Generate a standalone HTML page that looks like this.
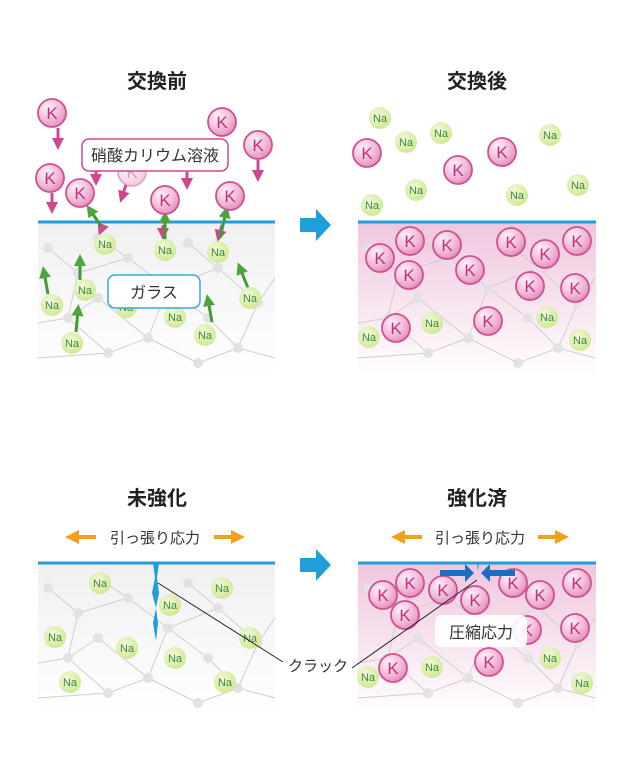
<!DOCTYPE html>
<html><head><meta charset="utf-8"><style>
body{margin:0;background:#fff;}
svg{display:block;font-family:"Liberation Sans","Noto Sans CJK JP",sans-serif;}
.k circle{fill:url(#kg);stroke:#cf4f93;stroke-width:1.8}
.k text{fill:#c2307c;font-size:17px;text-anchor:middle}
.n circle{fill:url(#ng)}
.n text{fill:#3c8a3c;font-size:11px;text-anchor:middle}
.net line{stroke:#cfcfcf;stroke-width:1}
.net circle{fill:#e2e2e2}
.t{font-size:20px;font-weight:bold;text-anchor:middle;fill:#222}
</style></head><body>
<svg width="640" height="760" viewBox="0 0 640 760">
<defs>
<radialGradient id="kg" cx="0.35" cy="0.3" r="0.8"><stop offset="0" stop-color="#fdf0f7"/><stop offset="0.55" stop-color="#f2bcd9"/><stop offset="1" stop-color="#e284b7"/></radialGradient>
<radialGradient id="ng" cx="0.4" cy="0.35" r="0.8"><stop offset="0" stop-color="#f2f9dc"/><stop offset="1" stop-color="#c9e585"/></radialGradient>
<linearGradient id="gl" x1="0" y1="0" x2="0" y2="1"><stop offset="0" stop-color="#f0f0f0"/><stop offset="1" stop-color="#fff"/></linearGradient>
<linearGradient id="pk" x1="0" y1="0" x2="0" y2="1"><stop offset="0" stop-color="#efc6dd"/><stop offset="1" stop-color="#fff"/></linearGradient>
<marker id="pa" viewBox="0 0 10 10" refX="5" refY="5" markerWidth="4" markerHeight="4" orient="auto"><path d="M0,0L10,5L0,10z" fill="#d0478e"/></marker>
<marker id="ga" viewBox="0 0 10 10" refX="5" refY="5" markerWidth="4" markerHeight="4" orient="auto"><path d="M0,0L10,5L0,10z" fill="#4aa63a"/></marker>
<marker id="oa" viewBox="0 0 10 10" refX="5" refY="5" markerWidth="3.5" markerHeight="3.5" orient="auto"><path d="M0,0L10,5L0,10z" fill="#f2a11c"/></marker>
<g id="netA" class="net">
<line x1="10" y1="20" x2="40" y2="45"/><line x1="40" y1="45" x2="30" y2="90"/><line x1="40" y1="45" x2="90" y2="30"/><line x1="90" y1="30" x2="130" y2="60"/><line x1="130" y1="60" x2="110" y2="110"/><line x1="30" y1="90" x2="70" y2="125"/><line x1="70" y1="125" x2="110" y2="110"/><line x1="130" y1="60" x2="180" y2="40"/><line x1="180" y1="40" x2="220" y2="75"/><line x1="220" y1="75" x2="200" y2="120"/><line x1="110" y1="110" x2="160" y2="135"/><line x1="160" y1="135" x2="200" y2="120"/><line x1="0" y1="95" x2="30" y2="90"/><line x1="220" y1="75" x2="237" y2="50"/><line x1="200" y1="120" x2="237" y2="130"/><line x1="0" y1="130" x2="70" y2="125"/>
<line x1="60" y1="10" x2="90" y2="30"/><line x1="150" y1="15" x2="180" y2="40"/><line x1="60" y1="70" x2="30" y2="90"/><line x1="60" y1="70" x2="110" y2="110"/><line x1="170" y1="90" x2="200" y2="120"/><line x1="170" y1="90" x2="130" y2="60"/>
<circle cx="40" cy="45" r="5"/><circle cx="90" cy="30" r="5"/><circle cx="130" cy="60" r="5"/><circle cx="30" cy="90" r="5"/><circle cx="110" cy="110" r="5"/><circle cx="70" cy="125" r="5"/><circle cx="180" cy="40" r="5"/><circle cx="220" cy="75" r="5"/><circle cx="200" cy="120" r="5"/><circle cx="160" cy="135" r="5"/><circle cx="10" cy="20" r="5"/><circle cx="60" cy="10" r="5"/><circle cx="150" cy="15" r="5"/><circle cx="60" cy="70" r="5"/><circle cx="170" cy="90" r="5"/>
</g>
</defs>

<text class="t" x="157" y="88">交換前</text>
<text class="t" x="477" y="88">交換後</text>
<text class="t" x="157" y="505">未強化</text>
<text class="t" x="477" y="505">強化済</text>

<path d="M300,218h16v-9l15,16l-15,16v-9h-16z" fill="#1e9fd9"/>
<path d="M300,558h16v-9l15,16l-15,16v-9h-16z" fill="#1e9fd9"/>

<!-- panel 1 -->
<rect x="38" y="222" width="237" height="153" fill="url(#gl)"/>
<use href="#netA" x="38" y="228"/>
<line x1="38" y1="222" x2="275" y2="222" stroke="#1e9fd9" stroke-width="3"/>
<g stroke="#d0478e" stroke-width="3" marker-end="url(#pa)">
<line x1="58" y1="128" x2="58" y2="144"/><line x1="52" y1="193" x2="52" y2="208"/><line x1="96" y1="170" x2="96" y2="180"/><line x1="126" y1="185" x2="122" y2="197"/><line x1="187" y1="172" x2="187" y2="184"/><line x1="258" y1="160" x2="258" y2="176"/><line x1="103" y1="225" x2="101" y2="230"/><line x1="163" y1="225" x2="163" y2="234"/><line x1="222" y1="225" x2="219" y2="236"/>
</g>
<g stroke="#3f9c35" stroke-width="3" marker-end="url(#ga)">
<line x1="101" y1="226" x2="90" y2="210"/><line x1="165" y1="240" x2="165" y2="217"/><line x1="220" y1="238" x2="226" y2="212"/>
<line x1="48" y1="294" x2="44" y2="272"/><line x1="80" y1="280" x2="80" y2="260"/><line x1="76" y1="332" x2="78" y2="310"/><line x1="212" y1="322" x2="208" y2="300"/><line x1="248" y1="288" x2="240" y2="268"/>
</g>
<g class="k"><circle cx="52" cy="113" r="14"/><text x="52" y="119">K</text></g>
<g class="k"><circle cx="222" cy="122" r="14"/><text x="222" y="128">K</text></g>
<g class="k"><circle cx="258" cy="145" r="14"/><text x="258" y="151">K</text></g>
<g class="k"><circle cx="50" cy="178" r="14"/><text x="50" y="184">K</text></g>
<g class="k" opacity="0.5"><circle cx="132" cy="172" r="14"/><text x="132" y="178">K</text></g>
<g class="k"><circle cx="80" cy="193" r="14"/><text x="80" y="199">K</text></g>
<g class="k"><circle cx="165" cy="200" r="14"/><text x="165" y="206">K</text></g>
<g class="k"><circle cx="230" cy="196" r="14"/><text x="230" y="202">K</text></g>
<rect x="82" y="139" width="146" height="32" rx="7" fill="#fff" fill-opacity="0.92" stroke="#d0478e" stroke-width="1.5"/>
<text x="155" y="161" font-size="16" text-anchor="middle" fill="#333">硝酸カリウム溶液</text>
<g class="n"><circle cx="105" cy="244" r="11"/><text x="105" y="248">Na</text></g>
<g class="n"><circle cx="165" cy="250" r="11"/><text x="165" y="254">Na</text></g>
<g class="n"><circle cx="218" cy="252" r="11"/><text x="218" y="256">Na</text></g>
<g class="n"><circle cx="85" cy="290" r="11"/><text x="85" y="294">Na</text></g>
<g class="n"><circle cx="52" cy="305" r="11"/><text x="52" y="309">Na</text></g>
<g class="n"><circle cx="126" cy="307" r="11"/><text x="126" y="311">Na</text></g>
<g class="n"><circle cx="175" cy="317" r="11"/><text x="175" y="321">Na</text></g>
<g class="n"><circle cx="250" cy="298" r="11"/><text x="250" y="302">Na</text></g>
<g class="n"><circle cx="205" cy="335" r="11"/><text x="205" y="339">Na</text></g>
<g class="n"><circle cx="72" cy="343" r="11"/><text x="72" y="347">Na</text></g>
<rect x="108" y="275" width="92" height="33" rx="7" fill="#fff" fill-opacity="0.92" stroke="#3aa8dc" stroke-width="1.5"/>
<text x="154" y="298" font-size="16" text-anchor="middle" fill="#333">ガラス</text>

<!-- panel 2 -->
<rect x="358" y="222" width="238" height="153" fill="url(#pk)"/>
<use href="#netA" x="358" y="228"/>
<line x1="358" y1="222" x2="596" y2="222" stroke="#1e9fd9" stroke-width="3"/>
<g class="n"><circle cx="380" cy="118" r="11"/><text x="380" y="122">Na</text></g>
<g class="n"><circle cx="406" cy="142" r="11"/><text x="406" y="146">Na</text></g>
<g class="n"><circle cx="441" cy="133" r="11"/><text x="441" y="137">Na</text></g>
<g class="n"><circle cx="550" cy="135" r="11"/><text x="550" y="139">Na</text></g>
<g class="n"><circle cx="372" cy="205" r="11"/><text x="372" y="209">Na</text></g>
<g class="n"><circle cx="416" cy="190" r="11"/><text x="416" y="194">Na</text></g>
<g class="n"><circle cx="517" cy="195" r="11"/><text x="517" y="199">Na</text></g>
<g class="n"><circle cx="578" cy="185" r="11"/><text x="578" y="189">Na</text></g>
<g class="k"><circle cx="367" cy="153" r="14"/><text x="367" y="159">K</text></g>
<g class="k"><circle cx="458" cy="170" r="14"/><text x="458" y="176">K</text></g>
<g class="k"><circle cx="502" cy="152" r="14"/><text x="502" y="158">K</text></g>
<g class="k"><circle cx="410" cy="241" r="14"/><text x="410" y="247">K</text></g>
<g class="k"><circle cx="447" cy="245" r="14"/><text x="447" y="251">K</text></g>
<g class="k"><circle cx="511" cy="242" r="14"/><text x="511" y="248">K</text></g>
<g class="k"><circle cx="545" cy="254" r="14"/><text x="545" y="260">K</text></g>
<g class="k"><circle cx="577" cy="241" r="14"/><text x="577" y="247">K</text></g>
<g class="k"><circle cx="380" cy="258" r="14"/><text x="380" y="264">K</text></g>
<g class="k"><circle cx="409" cy="275" r="14"/><text x="409" y="281">K</text></g>
<g class="k"><circle cx="470" cy="270" r="14"/><text x="470" y="276">K</text></g>
<g class="k"><circle cx="530" cy="286" r="14"/><text x="530" y="292">K</text></g>
<g class="k"><circle cx="575" cy="288" r="14"/><text x="575" y="294">K</text></g>
<g class="k"><circle cx="396" cy="328" r="14"/><text x="396" y="334">K</text></g>
<g class="k"><circle cx="488" cy="321" r="14"/><text x="488" y="327">K</text></g>
<g class="n"><circle cx="432" cy="323" r="11"/><text x="432" y="327">Na</text></g>
<g class="n"><circle cx="547" cy="317" r="11"/><text x="547" y="321">Na</text></g>
<g class="n"><circle cx="369" cy="337" r="11"/><text x="369" y="341">Na</text></g>
<g class="n"><circle cx="580" cy="340" r="11"/><text x="580" y="344">Na</text></g>

<g stroke="#f2a11c" stroke-width="4"><line x1="96" y1="537" x2="72" y2="537" marker-end="url(#oa)"/><line x1="214" y1="537" x2="238" y2="537" marker-end="url(#oa)"/><line x1="422" y1="537" x2="398" y2="537" marker-end="url(#oa)"/><line x1="538" y1="537" x2="562" y2="537" marker-end="url(#oa)"/></g>
<text x="155" y="543" font-size="15" text-anchor="middle" fill="#333">引っ張り応力</text>
<text x="480" y="543" font-size="15" text-anchor="middle" fill="#333">引っ張り応力</text>

<!-- panel 3 -->
<rect x="38" y="563" width="237" height="152" fill="url(#gl)"/>
<use href="#netA" x="38" y="568"/>
<line x1="38" y1="563" x2="275" y2="563" stroke="#1e9fd9" stroke-width="3"/>
<path d="M153,563l2,15l-3,15l4,15l-3,15l3,18l2,-18l-2,-15l3,-15l-2,-15l2,-15z" fill="#1e9fd9"/>
<g class="n"><circle cx="100" cy="583" r="11"/><text x="100" y="587">Na</text></g>
<g class="n"><circle cx="222" cy="588" r="11"/><text x="222" y="592">Na</text></g>
<g class="n"><circle cx="170" cy="605" r="11"/><text x="170" y="609">Na</text></g>
<g class="n"><circle cx="55" cy="637" r="11"/><text x="55" y="641">Na</text></g>
<g class="n"><circle cx="127" cy="648" r="11"/><text x="127" y="652">Na</text></g>
<g class="n"><circle cx="250" cy="638" r="11"/><text x="250" y="642">Na</text></g>
<g class="n"><circle cx="175" cy="658" r="11"/><text x="175" y="662">Na</text></g>
<g class="n"><circle cx="70" cy="682" r="11"/><text x="70" y="686">Na</text></g>
<g class="n"><circle cx="225" cy="682" r="11"/><text x="225" y="686">Na</text></g>

<!-- panel 4 -->
<rect x="358" y="563" width="238" height="152" fill="url(#pk)"/>
<use href="#netA" x="358" y="568"/>
<line x1="358" y1="563" x2="596" y2="563" stroke="#1e9fd9" stroke-width="3"/>
<g class="k"><circle cx="410" cy="583" r="14"/><text x="410" y="589">K</text></g>
<g class="k"><circle cx="383" cy="595" r="14"/><text x="383" y="601">K</text></g>
<g class="k"><circle cx="443" cy="590" r="14"/><text x="443" y="596">K</text></g>
<g class="k"><circle cx="475" cy="600" r="14"/><text x="475" y="606">K</text></g>
<g class="k"><circle cx="513" cy="583" r="14"/><text x="513" y="589">K</text></g>
<g class="k"><circle cx="540" cy="595" r="14"/><text x="540" y="601">K</text></g>
<g class="k"><circle cx="577" cy="583" r="14"/><text x="577" y="589">K</text></g>
<g class="k"><circle cx="405" cy="615" r="14"/><text x="405" y="621">K</text></g>
<g class="k"><circle cx="527" cy="630" r="14"/><text x="527" y="636">K</text></g>
<g class="k"><circle cx="575" cy="628" r="14"/><text x="575" y="634">K</text></g>
<g class="k"><circle cx="393" cy="668" r="14"/><text x="393" y="674">K</text></g>
<g class="k"><circle cx="489" cy="662" r="14"/><text x="489" y="668">K</text></g>
<g class="n"><circle cx="368" cy="677" r="11"/><text x="368" y="681">Na</text></g>
<g class="n"><circle cx="432" cy="667" r="11"/><text x="432" y="671">Na</text></g>
<g class="n"><circle cx="550" cy="658" r="11"/><text x="550" y="662">Na</text></g>
<g class="n"><circle cx="582" cy="683" r="11"/><text x="582" y="687">Na</text></g>
<path d="M477,563l1,8l1,-8z" fill="#1e9fd9"/>
<path d="M440,570h25v-6l9,9l-9,9v-6h-25z" fill="#1a6fc0"/>
<path d="M515,570h-25v-6l-9,9l9,9v-6h25z" fill="#1a6fc0"/>
<rect x="435" y="615" width="92" height="32" rx="6" fill="#fff" fill-opacity="0.9"/>
<text x="481" y="638" font-size="16" text-anchor="middle" fill="#333">圧縮応力</text>

<line x1="158" y1="583" x2="283" y2="662" stroke="#222" stroke-width="1"/>
<line x1="477" y1="580" x2="352" y2="668" stroke="#222" stroke-width="1"/>
<text x="318" y="671" font-size="15" text-anchor="middle" fill="#333">クラック</text>
</svg>
</body></html>
